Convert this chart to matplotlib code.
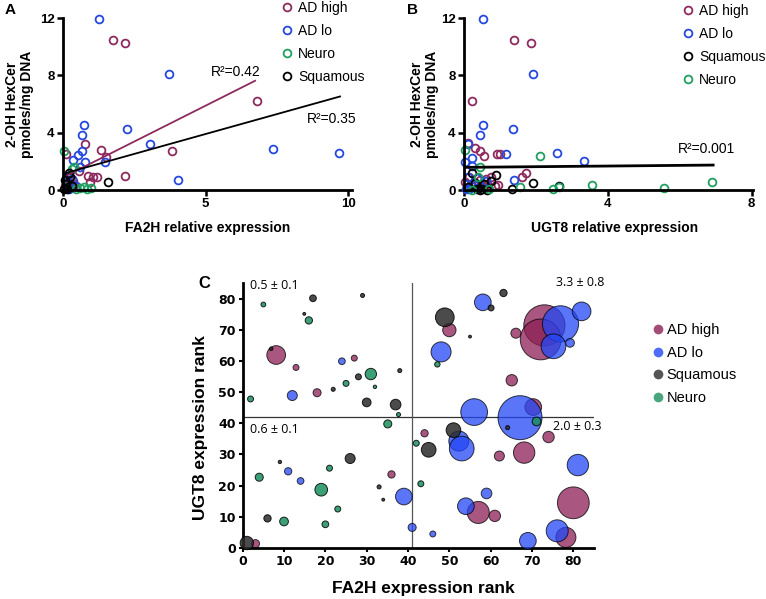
import matplotlib
matplotlib.use("Agg")
import matplotlib.pyplot as plt
from matplotlib.lines import Line2D
import numpy as np

# ---- panel A: FA2H relative expression vs 2-OH HexCer ----
a_high_x = [1.74, 2.17, 6.79, 3.83, 0.76, 1.34, 1.52, 2.17, 0.12, 1.19, 1.07, 0.88, 0.96, 0.57,
            0.10, 0.15, 0.20, 0.25, 0.30, 0.35, 0.08, 0.40, 0.22]
a_high_y = [10.47, 10.28, 6.23, 2.74, 3.21, 2.79, 2.33, 0.98, 2.51, 0.93, 0.88, 0.98, 0.58, 1.35,
            0.50, 0.30, 0.55, 0.20, 0.45, 0.60, 0.25, 0.35, 0.15]
a_lo_x = [1.25, 3.73, 2.25, 3.07, 7.36, 9.70, 4.02, 0.72, 0.65, 0.68, 0.51, 0.36, 0.78, 1.47,
          0.61, 0.14, 0.10, 0.30, 0.45, 0.20]
a_lo_y = [11.93, 8.07, 4.26, 3.21, 2.86, 2.58, 0.70, 4.53, 3.84, 2.72, 2.42, 2.07, 1.98, 1.93,
          1.63, 0.93, 0.60, 0.80, 0.30, 0.05]
a_neuro_x = [0.05, 0.40, 0.75, 0.98, 0.61, 0.30, 0.85, 0.10, 0.45]
a_neuro_y = [2.72, 1.63, 0.23, 0.12, 0.12, 1.50, 0.10, 0.20, 0.05]
a_squam_x = [1.58, 0.22, 0.08, 0.15, 0.30, 0.05, 0.25, 0.12]
a_squam_y = [0.53, 1.16, 0.70, 0.10, 0.30, 0.05, 0.90, 0.40]

# fitted lines (slope, intercept, x start, x end)
a_fit_high = [1.0, 0.88, 0.15, 6.74]
a_fit_all = [0.555, 1.13, 0.0, 9.72]

# ---- panel B: UGT8 relative expression vs 2-OH HexCer ----
b_high_x = [1.40, 1.85, 0.23, 0.12, 0.31, 0.44, 0.56, 0.93, 1.00, 1.72, 1.60, 0.95, 0.85, 0.03,
            0.15, 0.30, 0.45, 0.60, 0.75, 0.50, 0.20, 0.65]
b_high_y = [10.47, 10.28, 6.23, 3.25, 2.90, 2.74, 2.37, 2.51, 2.51, 1.21, 0.93, 0.35, 0.30, 0.58,
            0.90, 0.50, 0.70, 0.80, 0.90, 0.35, 0.40, 0.45]
b_lo_x = [0.53, 1.91, 0.52, 0.44, 1.35, 0.10, 0.21, 0.03, 1.17, 2.58, 3.34, 1.40, 0.21, 0.10,
          0.20, 0.05, 0.35, 0.60, 0.40, 0.15]
b_lo_y = [11.93, 8.07, 4.53, 3.84, 4.26, 3.21, 2.20, 1.98, 2.49, 2.58, 2.00, 0.70, 1.67, 0.90,
          0.30, 0.10, 0.85, 0.60, 0.15, 0.05]
b_squam_x = [0.88, 1.93, 2.64, 1.33, 0.21, 0.35, 0.50, 0.65, 0.30, 0.55, 0.75, 0.10, 0.45]
b_squam_y = [1.05, 0.47, 0.30, 0.07, 1.16, 0.07, 0.05, 0.03, 0.50, 0.40, 0.60, 0.20, 0.02]
b_neuro_x = [0.03, 0.44, 2.11, 3.57, 5.57, 6.89, 2.47, 2.64, 1.55, 0.21, 0.40, 0.70]
b_neuro_y = [2.79, 1.58, 2.40, 0.35, 0.12, 0.53, 0.05, 0.23, 0.19, 0.02, 0.90, 0.05]

b_fit_all = [0.023, 1.58, 0.0, 6.93]

# ---- panel C: rank vs rank, bubble area = 2-OH HexCer ----
c_high_x = [8.1, 27.0, 12.9, 18.0, 3.1, 36.0, 44.0, 50.0, 66.1, 73.0, 72.1, 65.1, 70.3, 74.0,
            62.1, 68.1, 57.0, 61.0, 80.0, 78.2]
c_high_y = [61.9, 60.9, 57.9, 49.8, 1.4, 23.6, 36.8, 69.9, 68.9, 71.4, 66.9, 53.8, 45.2, 35.6,
            29.5, 30.6, 11.4, 10.3, 14.5, 3.4]
c_high_v = [2.16, 0.22, 0.22, 0.40, 0.40, 0.33, 0.33, 1.10, 0.62, 10.47, 10.28, 0.80, 1.72, 0.80,
            0.62, 2.82, 3.00, 0.80, 6.23, 2.48]

c_lo_x = [24.0, 12.0, 11.0, 14.0, 39.0, 41.0, 46.0, 48.0, 58.1, 76.9, 75.2, 79.2, 82.0, 56.0,
          67.1, 52.3, 53.0, 81.1, 59.0, 54.0, 76.1, 69.0]
c_lo_y = [59.9, 48.9, 24.6, 21.5, 16.5, 6.6, 4.5, 62.9, 78.8, 71.9, 64.7, 65.8, 75.9, 43.6,
          41.8, 34.3, 31.9, 26.6, 17.5, 13.4, 5.5, 2.3]
c_lo_v = [0.28, 0.62, 0.33, 0.28, 1.72, 0.40, 0.22, 2.48, 1.72, 8.07, 3.77, 0.47, 2.16, 4.41,
          11.93, 2.48, 3.77, 2.82, 0.70, 1.72, 3.00, 1.72]

c_squam_x = [17.0, 29.0, 14.9, 6.9, 28.0, 38.0, 21.9, 30.0, 37.0, 9.0, 26.0, 6.0, 1.0, 33.0,
             34.0, 45.0, 48.9, 55.0, 60.1, 63.1, 64.1, 51.0]
c_squam_y = [80.1, 81.0, 75.1, 63.9, 54.9, 56.9, 50.9, 46.7, 46.0, 27.6, 28.7, 9.5, 1.6, 19.6,
             15.5, 31.5, 74.0, 67.8, 77.0, 81.8, 38.6, 37.8]
c_squam_v = [0.28, 0.10, 0.05, 0.07, 0.22, 0.10, 0.10, 0.47, 0.70, 0.07, 0.62, 0.33, 1.10, 0.10,
             0.05, 1.33, 2.16, 0.05, 0.22, 0.33, 0.10, 1.33]

c_neuro_x = [5.0, 16.0, 31.0, 25.0, 32.0, 1.9, 37.7, 35.1, 21.0, 4.0, 19.0, 23.0, 10.0, 20.0,
             43.1, 42.0, 47.1, 71.1]
c_neuro_y = [78.1, 73.0, 55.8, 52.8, 51.7, 47.8, 42.8, 39.8, 25.6, 22.7, 18.7, 12.5, 8.5, 7.6,
             20.6, 33.6, 58.9, 40.6]
c_neuro_v = [0.14, 0.33, 0.80, 0.22, 0.07, 0.22, 0.10, 0.40, 0.22, 0.40, 0.99, 0.22, 0.47, 0.28,
             0.22, 0.22, 0.18, 0.47]

c_cut_x = 41
c_cut_y = 42
c_quad_text = ["0.5 \u00b1 0.1", "3.3 \u00b1 0.8", "0.6 \u00b1 0.1", "2.0 \u00b1 0.3"]

MAROON = "#8e2a5e"
BLUE = "#2448e0"
GREEN = "#20a060"
BLACK = "#000000"

C_MAROON = "#8c1f55"
C_BLUE = "#2347f5"
C_GRAY = "#2b2b2b"
C_GREEN = "#1a8f5e"

plt.rcParams['font.family'] = ['Liberation Sans', 'DejaVu Sans']

fig = plt.figure(figsize=(7.66, 5.99), dpi=100)
W, H = 766.0, 599.0


def rect(x0, y_top, x1, y_bot):
    return [x0 / W, 1 - y_bot / H, (x1 - x0) / W, (y_bot - y_top) / H]


def style_ab(ax):
    for s in ['top', 'right']:
        ax.spines[s].set_visible(False)
    for s in ['left', 'bottom']:
        ax.spines[s].set_linewidth(2.0)
    ax.tick_params(direction='out', length=4, width=1.8, labelsize=9.5, pad=2)
    for lab in ax.get_xticklabels() + ax.get_yticklabels():
        lab.set_fontweight('bold')


def open_pts(ax, x, y, color):
    ax.plot(x, y, 'o', ls='none', mfc='none', mec=color, ms=5.6, mew=1.3, clip_on=False)


# ---------------- A ----------------
axA = fig.add_axes(rect(63, 18, 352, 190))
open_pts(axA, a_high_x, a_high_y, MAROON)
open_pts(axA, a_lo_x, a_lo_y, BLUE)
open_pts(axA, a_neuro_x, a_neuro_y, GREEN)
open_pts(axA, a_squam_x, a_squam_y, BLACK)
xs = np.array(a_fit_high[2:])
axA.plot(xs, a_fit_high[0] * xs + a_fit_high[1], color=MAROON, lw=1.3)
xs = np.array(a_fit_all[2:])
axA.plot(xs, a_fit_all[0] * xs + a_fit_all[1], color=BLACK, lw=1.3)
axA.text(5.2, 7.95, "R\u00b2=0.42", fontsize=10)
axA.text(8.55, 4.65, "R\u00b2=0.35", fontsize=10)
axA.set_xlim(0, 10.14)
axA.set_ylim(0, 12)
axA.set_xticks([0, 5, 10])
axA.set_yticks([0, 4, 8, 12])
style_ab(axA)
axA.set_xlabel("FA2H relative expression", fontsize=10, fontweight='bold')
axA.xaxis.set_label_coords(0.5, -0.18)
axA.set_ylabel("2-OH HexCer\npmoles/mg DNA", fontsize=10, fontweight='bold', linespacing=1.1)
axA.yaxis.set_label_coords(-0.10, 0.5)
hA = [Line2D([], [], marker='o', ls='none', mfc='none', mec=c, ms=5.6, mew=1.3)
      for c in [MAROON, BLUE, GREEN, BLACK]]
axA.legend(hA, ["AD high", "AD lo", "Neuro", "Squamous"], loc='upper left',
           bbox_to_anchor=(281.5 / W, 1 - 1 / H), bbox_transform=fig.transFigure,
           frameon=False, fontsize=10, handlelength=0.8, handletextpad=0.4,
           labelspacing=0.64, borderpad=0, borderaxespad=0)
fig.text(5 / W, 1 - 14 / H, "A", fontsize=11, fontweight='bold')

# ---------------- B ----------------
axB = fig.add_axes(rect(464, 18, 752.7, 190))
open_pts(axB, b_high_x, b_high_y, MAROON)
open_pts(axB, b_lo_x, b_lo_y, BLUE)
open_pts(axB, b_squam_x, b_squam_y, BLACK)
open_pts(axB, b_neuro_x, b_neuro_y, GREEN)
xs = np.array(b_fit_all[2:])
axB.plot(xs, b_fit_all[0] * xs + b_fit_all[1], color=BLACK, lw=2.0)
axB.text(5.95, 2.55, "R\u00b2=0.001", fontsize=10)
axB.set_xlim(0, 8.03)
axB.set_ylim(0, 12)
axB.set_xticks([0, 4, 8])
axB.set_yticks([0, 4, 8, 12])
style_ab(axB)
axB.set_xlabel("UGT8 relative expression", fontsize=10, fontweight='bold')
axB.xaxis.set_label_coords(0.52, -0.18)
axB.set_ylabel("2-OH HexCer\npmoles/mg DNA", fontsize=10, fontweight='bold', linespacing=1.1)
axB.yaxis.set_label_coords(-0.087, 0.5)
hB = [Line2D([], [], marker='o', ls='none', mfc='none', mec=c, ms=5.6, mew=1.3)
      for c in [MAROON, BLUE, BLACK, GREEN]]
axB.legend(hB, ["AD high", "AD lo", "Squamous", "Neuro"], loc='upper left',
           bbox_to_anchor=(682.5 / W, 1 - 4 / H), bbox_transform=fig.transFigure,
           frameon=False, fontsize=10, handlelength=0.8, handletextpad=0.4,
           labelspacing=0.64, borderpad=0, borderaxespad=0)
fig.text(407 / W, 1 - 14 / H, "B", fontsize=11, fontweight='bold')

# ---------------- C ----------------
axC = fig.add_axes(rect(242.7, 283, 594, 548))
k = 84.0
axC.axhline(c_cut_y, color='#333333', lw=0.9, zorder=1)
axC.axvline(c_cut_x, color='#555555', lw=0.9, zorder=1)
axC.scatter(c_high_x, c_high_y, s=np.array(c_high_v) * k, c=C_MAROON, alpha=0.75,
            edgecolors='black', linewidths=0.7, zorder=2, clip_on=False)
axC.scatter(c_lo_x, c_lo_y, s=np.array(c_lo_v) * k, c=C_BLUE, alpha=0.75,
            edgecolors='black', linewidths=0.7, zorder=3, clip_on=False)
axC.scatter(c_squam_x, c_squam_y, s=np.array(c_squam_v) * k, c=C_GRAY, alpha=0.85,
            edgecolors='black', linewidths=0.7, zorder=4, clip_on=False)
axC.scatter(c_neuro_x, c_neuro_y, s=np.array(c_neuro_v) * k, c=C_GREEN, alpha=0.85,
            edgecolors='black', linewidths=0.7, zorder=5, clip_on=False)
qfont = dict(fontsize=9, family=['Open Sans', 'DejaVu Sans'])
axC.text(1.8, 84.2, c_quad_text[0], va='center', **qfont)
axC.text(75.8, 85.0, c_quad_text[1], va='center', **qfont)
axC.text(1.8, 38.0, c_quad_text[2], va='center', **qfont)
axC.text(75.0, 39.1, c_quad_text[3], va='center', **qfont)
axC.set_xlim(0, 85)
axC.set_ylim(0, 85)
axC.set_xticks(range(0, 81, 10))
axC.set_yticks(range(0, 81, 10))
for s in ['top', 'right']:
    axC.spines[s].set_visible(False)
for s in ['left', 'bottom']:
    axC.spines[s].set_linewidth(2.0)
axC.tick_params(direction='out', length=3, width=1.5, labelsize=9, pad=2)
for lab in axC.get_xticklabels() + axC.get_yticklabels():
    lab.set_fontweight('bold')
    lab.set_family('DejaVu Sans')
axC.set_xlabel("FA2H expression rank", fontsize=12.5, fontweight='bold')
axC.xaxis.set_label_coords(0.513, -0.125)
axC.set_ylabel("UGT8 expression rank", fontsize=12.5, fontweight='bold')
axC.yaxis.set_label_coords(-0.10, 0.453)
hC = [Line2D([], [], marker='o', ls='none', mfc=c, mec='none', ms=7, alpha=0.8)
      for c in [C_MAROON, C_BLUE, C_GRAY, C_GREEN]]
axC.legend(hC, ["AD high", "AD lo", "Squamous", "Neuro"], loc='upper left',
           bbox_to_anchor=(652 / W, 1 - 323 / H), bbox_transform=fig.transFigure,
           frameon=False, fontsize=10.5, handlelength=0.8, handletextpad=0.2,
           labelspacing=0.6, borderpad=0, borderaxespad=0)
fig.text(198 / W, 1 - 288 / H, "C", fontsize=12, fontweight='bold')

fig.savefig("out.png", dpi=100)
